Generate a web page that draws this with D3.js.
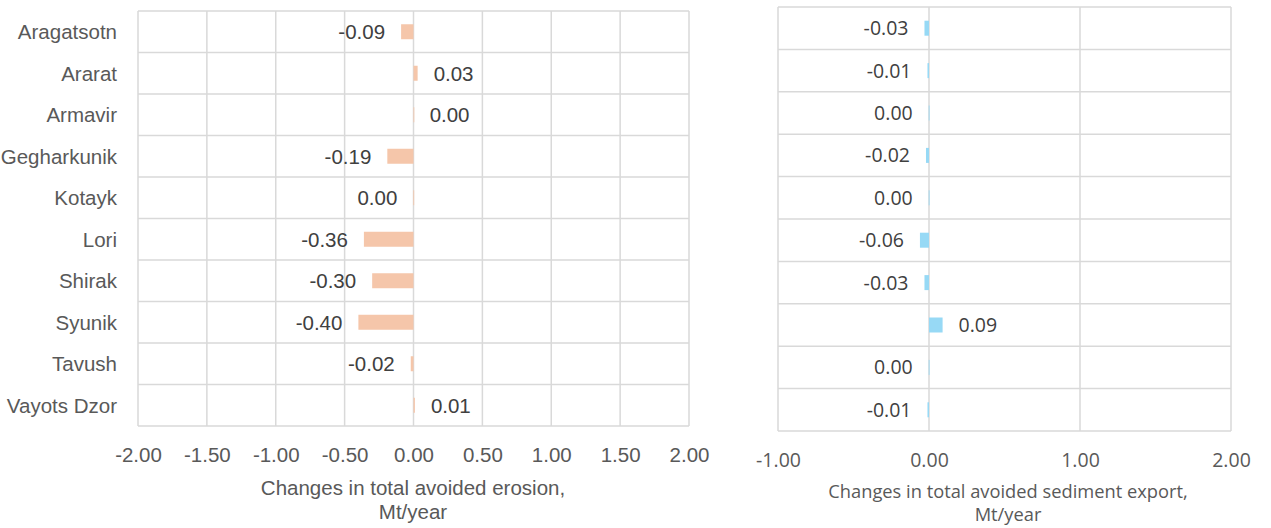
<!DOCTYPE html>
<html>
<head>
<meta charset="utf-8">
<script src="https://cdn.jsdelivr.net/npm/d3@7"></script>
<style>
  html, body { margin: 0; padding: 0; background: #fff; }
  svg { display: block; }
</style>
</head>
<body>
<svg id="chart" width="1271" height="528"></svg>
<script>
const categories = ["Aragatsotn","Ararat","Armavir","Gegharkunik","Kotayk","Lori","Shirak","Syunik","Tavush","Vayots Dzor"];
const erosionValues = [-0.09, 0.03, 0.001, -0.19, -0.001, -0.36, -0.30, -0.40, -0.02, 0.01];
const sedimentValues = [-0.03, -0.01, -0.002, -0.02, -0.002, -0.06, -0.03, 0.09, -0.002, -0.01];
const erosionTicks = [-2, -1.5, -1, -0.5, 0, 0.5, 1, 1.5, 2];
const sedimentTicks = [-1, 0, 1, 2];
const erosionTitle = ["Changes in total avoided erosion,", "Mt/year"];
const sedimentTitle = ["Changes in total avoided sediment export,", "Mt/year"];

const svg = d3.select("#chart");
const f2 = d3.format(".2f");
const hy = s => s.replace("\u2212", "-");
const fmt = v => (Math.abs(v) < 0.005 ? "0.00" : hy(f2(v)));
const fmtTick = v => hy(f2(v));

function panel(opts) {
  const g = svg.append("g");
  const x = d3.scaleLinear().domain(opts.domain).range([opts.left, opts.right]);
  const y = d3.scaleBand().domain(categories).range([opts.top, opts.bottom]).paddingInner(0).paddingOuter(0);
  const grid = "#D9D9D9";

  g.append("g").selectAll("line").data(opts.ticks).join("line")
    .attr("x1", d => x(d)).attr("x2", d => x(d))
    .attr("y1", opts.top).attr("y2", opts.bottom)
    .attr("stroke", grid).attr("stroke-width", 1.5);
  const bounds = categories.map(c => y(c)).concat([opts.bottom]);
  g.append("g").selectAll("line").data(bounds).join("line")
    .attr("x1", opts.left).attr("x2", opts.right)
    .attr("y1", d => d).attr("y2", d => d)
    .attr("stroke", grid).attr("stroke-width", 1.5);

  const bh = 15;
  const rows = categories.map((c, i) => ({c, v: opts.values[i]}));
  g.append("g").selectAll("rect").data(rows).join("rect")
    .attr("x", d => Math.min(x(0), x(d.v)))
    .attr("width", d => Math.max(Math.abs(x(d.v) - x(0)), 0.8))
    .attr("y", d => y(d.c) + y.bandwidth() / 2 - bh / 2)
    .attr("height", bh)
    .attr("fill", opts.color);

  g.append("g").selectAll("text").data(rows).join("text")
    .attr("x", d => d.v >= 0 ? x(d.v) + 16 : x(d.v) - 16)
    .attr("y", d => y(d.c) + y.bandwidth() / 2)
    .attr("dy", "0.36em")
    .attr("text-anchor", d => d.v >= 0 ? "start" : "end")
    .attr("font-family", opts.font)
    .attr("font-size", opts.numSize)
    .attr("fill", "#404040")
    .text(d => fmt(d.v));

  const axis = d3.axisBottom(x).tickValues(opts.ticks).tickFormat(fmtTick).tickSize(0).tickPadding(0);
  const ax = g.append("g").attr("transform", `translate(0,${opts.tickBase})`).call(axis);
  ax.select(".domain").remove();
  ax.selectAll("text")
    .attr("dy", null).attr("y", 0)
    .attr("font-family", opts.font).attr("font-size", opts.numSize)
    .attr("fill", "#595959");

  g.append("g").selectAll("text").data(opts.title).join("text")
    .attr("x", opts.titleX)
    .attr("y", (d, i) => opts.titleBase + i * opts.lineGap)
    .attr("text-anchor", "middle")
    .attr("font-family", opts.font).attr("font-size", opts.textSize)
    .attr("fill", "#595959")
    .text(d => d);

  if (opts.showCats) {
    g.append("g").selectAll("text").data(categories).join("text")
      .attr("x", opts.left - 21)
      .attr("y", d => y(d) + y.bandwidth() / 2)
      .attr("dy", "0.36em")
      .attr("text-anchor", "end")
      .attr("font-family", opts.font).attr("font-size", opts.textSize)
      .attr("fill", "#595959")
      .text(d => d);
  }
}

panel({
  domain: [-2, 2], left: 138, right: 689, top: 11, bottom: 426,
  values: erosionValues, ticks: erosionTicks, color: "#F5C6AA",
  font: "'Liberation Sans', Arial, sans-serif", numSize: 20.5, textSize: 20.5,
  tickBase: 462, title: erosionTitle, titleX: 413, titleBase: 495, lineGap: 23.5, showCats: true
});

panel({
  domain: [-1, 2], left: 778, right: 1231, top: 7, bottom: 431,
  values: sedimentValues, ticks: sedimentTicks, color: "#97D9F5",
  font: "'Open Sans', sans-serif", numSize: 19.5, textSize: 18.3,
  tickBase: 467, title: sedimentTitle, titleX: 1008, titleBase: 498, lineGap: 23, showCats: false
});
</script>
</body>
</html>
